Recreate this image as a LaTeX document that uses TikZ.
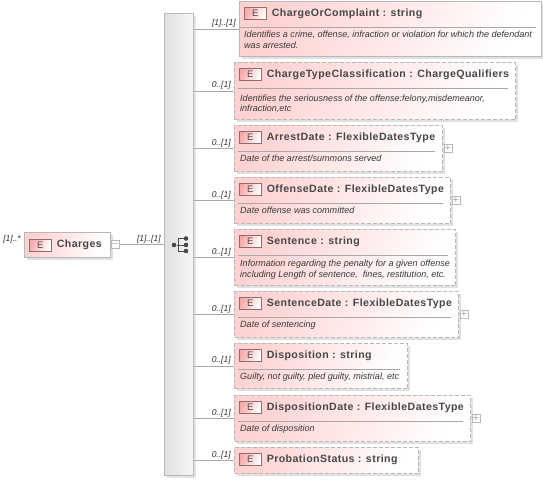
\documentclass[tikz,border=0pt]{standalone}
\usepackage{fontspec}
\setmainfont{Liberation Sans}
\usepackage{xcolor}
\usepackage{tikz}
\usetikzlibrary{calc, positioning, shadows}

\definecolor{edgegray}{HTML}{B8B8B8}
\definecolor{linegray}{HTML}{A8A8A8}
\definecolor{elempink}{HTML}{FFD2D2}
\definecolor{badgepink}{HTML}{F8A8A8}
\definecolor{badgeedge}{HTML}{8C6E6E}
\definecolor{iconblack}{HTML}{484848}

\tikzset{
    elem/.style={draw=edgegray, line width=1pt, anchor=north west, inner sep=0pt,
        left color=elempink, right color=white, shading angle=65,
        drop shadow={shadow xshift=2pt, shadow yshift=-2pt, opacity=0.12, fill=black}},
    optelem/.style={elem, dashed, dash pattern=on 4pt off 2pt},
    badge/.style={draw=badgeedge, line width=0.6pt, minimum width=22pt, minimum height=12pt, inner sep=0pt,
        left color=badgepink, right color=white, shading angle=70, font=\fontsize{9.5}{9.5}\selectfont, text=black!70},
    elemtitle/.style={anchor=west, inner sep=0pt, text=black!72, font=\fontsize{10.6}{12}\selectfont\bfseries\addfontfeature{LetterSpace=4}},
    elemdoc/.style={anchor=north west, inner sep=0pt, align=left, text=black!78, font=\fontsize{9.05}{10.3}\selectfont\itshape},
    sepline/.style={draw=linegray, line width=0.6pt},
    conn/.style={draw=linegray, line width=0.7pt},
    mult/.style={above left, inner sep=0pt, xshift=-3pt, yshift=1pt, text=black!80, font=\fontsize{8.5}{10}\selectfont\itshape},
    toggle/.style={draw=edgegray, fill=white, line width=0.6pt, minimum size=8.5pt, inner sep=0pt, text=linegray, font=\fontsize{10.5}{10.5}\selectfont},
    icondot/.style={circle, fill=iconblack, inner sep=0pt, minimum size=4.6pt},
}

\begin{document}
\begin{tikzpicture}[x=1pt, y=-1pt]
    \useasboundingbox (0,0) rectangle (543,480);

    % 1. Charges and the sequence bar
    \node[elem, minimum width=86pt, minimum height=25pt] (charges) at (24,232) {};
    \node[badge, anchor=west] (chargesE) at ([xshift=5pt]charges.west) {E};
    \node[elemtitle, right=5pt of chargesE] (chargesT) {Charges};
    \node[above left, inner sep=0pt, xshift=-3pt, yshift=2pt, text=black!80, font=\fontsize{8.5}{10}\selectfont\itshape] (chargesM) at (charges.west) {[1]..*};
    \node[toggle, anchor=west] (chargesminus) at (110.5,244.5) {--};
    \node[draw=edgegray, line width=1pt, anchor=north west, inner sep=0pt, minimum width=29pt, minimum height=462pt,
        left color=black!12, right color=black!3,
        drop shadow={shadow xshift=2pt, shadow yshift=-2pt, opacity=0.1, fill=black}] (seq) at (164,13) {};
    \draw[conn] (chargesminus.east) -- (chargesminus.east -| seq.west) node[mult, xshift=0pt] (seqM) {[1]..[1]};

    % 2. Sequence symbol
    \node[icondot] (dotL) at (174,245) {};
    \node[icondot] (dotA) at (186,238.5) {};
    \node[icondot] (dotB) at (186,245) {};
    \node[icondot] (dotC) at (186,251) {};
    \coordinate (forkA) at (178,238.5);
    \coordinate (forkC) at (178,251);
    \draw[iconblack, line width=1pt] (dotL) -- (dotB) (dotA) -- (forkA) -- (forkC) -- (dotC);

    % 3. Child elements
    \node[elem, minimum width=302pt, minimum height=55pt] (complaint) at (239,1) {};
    \node[badge, anchor=north west] (complaintE) at ([xshift=5pt,yshift=-6pt]complaint.north west) {E};
    \node[elemtitle, right=5pt of complaintE] (complaintT) {ChargeOrComplaint : string};
    \draw[sepline] ([xshift=1pt,yshift=-26pt]complaint.north west) -- ([xshift=-6pt,yshift=-26pt]complaint.north east);
    \node[elemdoc] (complaintD) at ([xshift=5pt,yshift=-30pt]complaint.north west) {Identifies a crime, offense, infraction or violation for which the defendant\\was arrested.};

    \node[optelem, minimum width=281pt, minimum height=57pt] (chargetype) at (234,62) {};
    \node[badge, anchor=north west] (chargetypeE) at ([xshift=5pt,yshift=-6pt]chargetype.north west) {E};
    \node[elemtitle, right=5pt of chargetypeE] (chargetypeT) {ChargeTypeClassification : ChargeQualifiers};
    \draw[sepline] ([xshift=4pt,yshift=-26pt]chargetype.north west) -- ([xshift=-8pt,yshift=-26pt]chargetype.north east);
    \node[elemdoc] (chargetypeD) at ([xshift=6pt,yshift=-32.5pt]chargetype.north west) {Identifies the seriousness of the offense:felony,misdemeanor,\\infraction,etc};

    \node[optelem, minimum width=208pt, minimum height=46pt] (arrest) at (234,125) {};
    \node[badge, anchor=north west] (arrestE) at ([xshift=5pt,yshift=-6pt]arrest.north west) {E};
    \node[elemtitle, right=5pt of arrestE] (arrestT) {ArrestDate : FlexibleDatesType};
    \draw[sepline] ([xshift=4pt,yshift=-26pt]arrest.north west) -- ([xshift=-8pt,yshift=-26pt]arrest.north east);
    \node[elemdoc] (arrestD) at ([xshift=6pt,yshift=-30pt]arrest.north west) {Date of the arrest/summons served};
    \node[toggle, anchor=west] (arrestplus) at ([xshift=0.5pt]arrest.east) {+};

    \node[optelem, minimum width=216pt, minimum height=46pt] (offense) at (234,177) {};
    \node[badge, anchor=north west] (offenseE) at ([xshift=5pt,yshift=-6pt]offense.north west) {E};
    \node[elemtitle, right=5pt of offenseE] (offenseT) {OffenseDate : FlexibleDatesType};
    \draw[sepline] ([xshift=4pt,yshift=-26pt]offense.north west) -- ([xshift=-8pt,yshift=-26pt]offense.north east);
    \node[elemdoc] (offenseD) at ([xshift=6pt,yshift=-30pt]offense.north west) {Date offense was committed};
    \node[toggle, anchor=west] (offenseplus) at ([xshift=0.5pt]offense.east) {+};

    \node[optelem, minimum width=221pt, minimum height=56pt] (sentence) at (234,229) {};
    \node[badge, anchor=north west] (sentenceE) at ([xshift=5pt,yshift=-6pt]sentence.north west) {E};
    \node[elemtitle, right=5pt of sentenceE] (sentenceT) {Sentence : string};
    \draw[sepline] ([xshift=4pt,yshift=-26pt]sentence.north west) -- ([xshift=-8pt,yshift=-26pt]sentence.north east);
    \node[elemdoc] (sentenceD) at ([xshift=6pt,yshift=-31pt]sentence.north west) {Information regarding the penalty for a given offense\\including Length of sentence,\ \ fines, restitution, etc.};

    \node[optelem, minimum width=224pt, minimum height=46pt] (sentencedate) at (234,291) {};
    \node[badge, anchor=north west] (sentencedateE) at ([xshift=5pt,yshift=-6pt]sentencedate.north west) {E};
    \node[elemtitle, right=5pt of sentencedateE] (sentencedateT) {SentenceDate : FlexibleDatesType};
    \draw[sepline] ([xshift=4pt,yshift=-26pt]sentencedate.north west) -- ([xshift=-8pt,yshift=-26pt]sentencedate.north east);
    \node[elemdoc] (sentencedateD) at ([xshift=6pt,yshift=-30pt]sentencedate.north west) {Date of sentencing};
    \node[toggle, anchor=west] (sentencedateplus) at ([xshift=0.5pt]sentencedate.east) {+};

    \node[optelem, minimum width=173pt, minimum height=45pt] (disposition) at (234,343) {};
    \node[badge, anchor=north west] (dispositionE) at ([xshift=5pt,yshift=-6pt]disposition.north west) {E};
    \node[elemtitle, right=5pt of dispositionE] (dispositionT) {Disposition : string};
    \draw[sepline] ([xshift=4pt,yshift=-26pt]disposition.north west) -- ([xshift=-8pt,yshift=-26pt]disposition.north east);
    \node[elemdoc] (dispositionD) at ([xshift=6pt,yshift=-30pt]disposition.north west) {Guilty, not guilty, pled guilty, mistrial, etc};

    \node[optelem, minimum width=236pt, minimum height=46pt] (dispositiondate) at (234,395) {};
    \node[badge, anchor=north west] (dispositiondateE) at ([xshift=5pt,yshift=-6pt]dispositiondate.north west) {E};
    \node[elemtitle, right=5pt of dispositiondateE] (dispositiondateT) {DispositionDate : FlexibleDatesType};
    \draw[sepline] ([xshift=4pt,yshift=-26pt]dispositiondate.north west) -- ([xshift=-8pt,yshift=-26pt]dispositiondate.north east);
    \node[elemdoc] (dispositiondateD) at ([xshift=6pt,yshift=-30pt]dispositiondate.north west) {Date of disposition};
    \node[toggle, anchor=west] (dispositiondateplus) at ([xshift=0.5pt]dispositiondate.east) {+};

    \node[optelem, minimum width=184pt, minimum height=26pt] (probation) at (234,447) {};
    \node[badge, anchor=north west] (probationE) at ([xshift=5pt,yshift=-6pt]probation.north west) {E};
    \node[elemtitle, right=5pt of probationE] (probationT) {ProbationStatus : string};

    % 4. Connectors from the bar
    \draw[conn] (seq.east |- complaint.west) -- (complaint.west) node[mult] (complaintM) {[1]..[1]};
    \foreach \child in {chargetype, arrest, offense, sentence, sentencedate, disposition, dispositiondate, probation}
        \draw[conn] (seq.east |- \child.west) -- (\child.west) node[mult] (\child M) {0..[1]};
\end{tikzpicture}
\end{document}
